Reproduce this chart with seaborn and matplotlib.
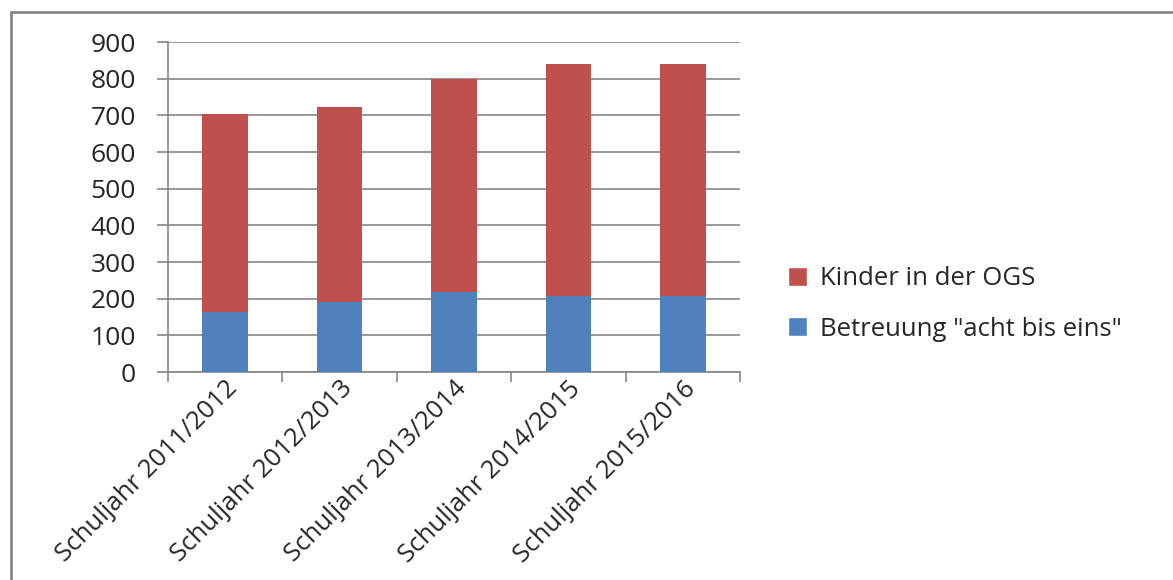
import pandas as pd
import matplotlib.pyplot as plt
import seaborn as sns
from matplotlib.patches import Patch, Rectangle

# Daten
schuljahre = ["Schuljahr 2011/2012", "Schuljahr 2012/2013", "Schuljahr 2013/2014",
              "Schuljahr 2014/2015", "Schuljahr 2015/2016"]
betreuung = [165, 191, 219, 208, 208]
kinder_ogs = [538, 531, 581, 632, 632]
gesamt = [b + k for b, k in zip(betreuung, kinder_ogs)]
yticks = [0, 100, 200, 300, 400, 500, 600, 700, 800, 900]

rot = "#C0504D"
blau = "#4F81BD"
grau = "#868686"

df = pd.DataFrame({"Schuljahr": schuljahre, "Betreuung": betreuung, "Gesamt": gesamt})

sns.set_style("white")
plt.rcParams["font.family"] = ["Open Sans", "DejaVu Sans"]

fig = plt.figure(figsize=(11.73, 5.8), dpi=100)
ax = fig.add_axes([168 / 1173, 1 - 372 / 580, (740 - 168) / 1173, (372 - 42) / 580])

# gestapelte Balken: Gesamt (rot) hinten, Betreuung (blau) vorne
sns.barplot(data=df, x="Schuljahr", y="Gesamt", color=rot, width=0.4,
            saturation=1, linewidth=0, ax=ax, zorder=3)
sns.barplot(data=df, x="Schuljahr", y="Betreuung", color=blau, width=0.4,
            saturation=1, linewidth=0, ax=ax, zorder=4)

ax.set_ylim(0, 900)
ax.set_xlim(-0.5, 4.5)
ax.set_yticks(yticks)
ax.set_yticklabels([str(t) for t in yticks], fontsize=19)
ax.yaxis.grid(True, color=grau, linewidth=1.2, zorder=0)
ax.set_axisbelow(True)
ax.set_xlabel("")
ax.set_ylabel("")

# x-Achse: Striche zwischen den Kategorien
ax.set_xticks(range(len(schuljahre)))
ax.set_xticklabels(schuljahre, rotation=45, ha="right", rotation_mode="anchor", fontsize=18.5)
ax.tick_params(axis="x", which="major", bottom=False, length=0, pad=3)
ax.set_xticks([i - 0.5 for i in range(len(schuljahre) + 1)], minor=True)
ax.tick_params(axis="x", which="minor", bottom=True, length=7, color=grau, width=1.2, direction="out")
ax.tick_params(axis="y", left=True, length=8, color=grau, width=1.2, direction="out", pad=15)

for s in ["top", "right"]:
    ax.spines[s].set_visible(False)
for s in ["left", "bottom"]:
    ax.spines[s].set_color(grau)
    ax.spines[s].set_linewidth(1.2)

# Legende
handles = [Patch(facecolor=rot, label="Kinder in der OGS"),
           Patch(facecolor=blau, label='Betreuung "acht bis eins"')]
fig.legend(handles=handles, loc="upper left", bbox_to_anchor=(765 / 1173, 1 - 243 / 580),
           frameon=False, fontsize=18.5, handlelength=0.75, handleheight=0.75,
           labelspacing=1.0, handletextpad=0.5)

# Rahmen
fig.patches.append(Rectangle((11 / 1173, -0.05), 1.2, 1 - 12 / 580 + 0.05,
                             transform=fig.transFigure, fill=False,
                             edgecolor=grau, linewidth=2))

fig.savefig("out.png", dpi=100)
